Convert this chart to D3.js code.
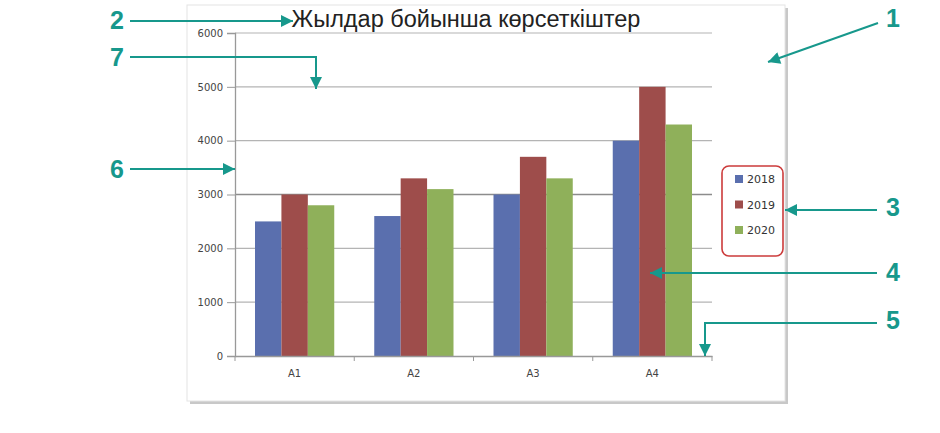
<!DOCTYPE html>
<html><head><meta charset="utf-8">
<script src="https://cdn.jsdelivr.net/npm/d3@7"></script>
<style>body{margin:0;background:#fff}svg{display:block}</style>
</head><body>
<svg id="c" width="940" height="433"></svg>
<script>
const categories = ["A1","A2","A3","A4"];
const years = ["2018","2019","2020"];
const v2018 = [2500,2600,3000,4000];
const v2019 = [3000,3300,3700,5000];
const v2020 = [2800,3100,3300,4300];
const yTicks = [0,1000,2000,3000,4000,5000,6000];
const title = "Жылдар бойынша көрсеткіштер";
const colors = ["#5a6fae","#9e4d4b","#8fb05a"];
const series = [v2018, v2019, v2020];

const svg = d3.select("#c");
const teal = "#17988c";
const smallFont = "DejaVu Sans, Verdana, sans-serif";

// chart frame with shadow
svg.append("rect").attr("x",190).attr("y",8).attr("width",598).attr("height",396).attr("fill","#c8c8c8");
svg.append("rect").attr("x",187).attr("y",5).attr("width",598).attr("height",396).attr("fill","#fff").attr("stroke","#e4e4e4");

const x0 = d3.scaleBand().domain(categories).range([235,712]).paddingInner(0).paddingOuter(0);
const x1 = d3.scaleBand().domain(years).range([20,x0.bandwidth()-20]);
const y = d3.scaleLinear().domain([0,6000]).range([356,33]);

// gridlines
svg.append("g").selectAll("line").data(yTicks.filter(d=>d>0)).join("line")
  .attr("x1",235).attr("x2",712).attr("y1",d=>y(d)).attr("y2",d=>y(d))
  .attr("stroke",d=>d===3000?"#8c8c8c":"#b4b4b4").attr("stroke-width",d=>d===3000?1.6:1.2);

// bars
const g = svg.append("g");
years.forEach((yr,i)=>{
  g.selectAll(null).data(categories).join("rect")
    .attr("x",c=>x0(c)+x1(yr)).attr("width",x1.bandwidth())
    .attr("y",(c,j)=>y(series[i][j])).attr("height",(c,j)=>y(0)-y(series[i][j]))
    .attr("fill",colors[i]);
});

// y axis
const ya = svg.append("g").attr("transform","translate(235,0)")
  .call(d3.axisLeft(y).tickValues(yTicks).tickSize(8).tickPadding(4).tickFormat(d3.format("d")));
ya.select(".domain").attr("stroke","#999").attr("stroke-width",1.3);
ya.selectAll(".tick line").attr("stroke","#999");
ya.selectAll("text").attr("font-family",smallFont).attr("font-size",10).attr("fill","#444");

// x axis
const xa = svg.append("g").attr("transform","translate(0,356)")
  .call(d3.axisBottom(x0).tickSize(0).tickPadding(14));
xa.select(".domain").attr("stroke","#999").attr("stroke-width",1.3);
xa.selectAll("text").attr("font-family",smallFont).attr("font-size",10).attr("fill","#444");
svg.append("g").selectAll("line").data(d3.range(5)).join("line")
  .attr("x1",i=>235+i*x0.step()).attr("x2",i=>235+i*x0.step())
  .attr("y1",356).attr("y2",361).attr("stroke","#999");

// title
svg.append("text").attr("x",466).attr("y",27).attr("text-anchor","middle")
  .attr("font-family","Liberation Sans, Arial, sans-serif").attr("font-size",23.5).attr("fill","#222").text(title);

// legend
svg.append("rect").attr("x",722).attr("y",166).attr("width",61).attr("height",90).attr("rx",7)
  .attr("fill","#fff").attr("stroke","#cc3b3b").attr("stroke-width",1.6);
const lg = svg.append("g").selectAll("g").data(years).join("g")
  .attr("transform",(d,i)=>`translate(735,${179+i*25.5})`);
lg.append("rect").attr("x",0).attr("y",-4).attr("width",8).attr("height",8).attr("fill",(d,i)=>colors[i]);
lg.append("text").attr("x",12).attr("y",4).attr("font-family",smallFont)
  .attr("font-size",11).attr("fill","#333").text(d=>d);

// annotation arrows
const defs = svg.append("defs");
defs.append("marker").attr("id","ah").attr("viewBox","0 0 10 10").attr("refX",10).attr("refY",5)
  .attr("markerWidth",6.5).attr("markerHeight",6).attr("markerUnits","strokeWidth").attr("orient","auto")
  .append("path").attr("d","M0,0L10,5L0,10Z").attr("fill",teal);
const ann = [
  {n:"1", tx:893, ty:18, pts:[[878,23],[768,62]]},
  {n:"2", tx:117, ty:20, pts:[[130,21],[293,21]]},
  {n:"7", tx:117, ty:57, pts:[[130,57],[316,57],[316,89]]},
  {n:"6", tx:117, ty:169, pts:[[130,169],[235,169]]},
  {n:"3", tx:893, ty:207, pts:[[877,210],[785,210]]},
  {n:"4", tx:893, ty:272, pts:[[877,273],[650,273]]},
  {n:"5", tx:893, ty:320, pts:[[877,323],[705,323],[705,356]]}
];
const line = d3.line();
ann.forEach(a=>{
  svg.append("path").attr("d",line(a.pts)).attr("fill","none").attr("stroke",teal)
    .attr("stroke-width",2).attr("marker-end","url(#ah)");
  svg.append("text").attr("x",a.tx).attr("y",a.ty).attr("dy","0.36em").attr("text-anchor","middle")
    .attr("font-family","Liberation Sans, Arial, sans-serif").attr("font-weight","bold")
    .attr("font-size",25).attr("fill",teal).text(a.n);
});
</script>
</body></html>
